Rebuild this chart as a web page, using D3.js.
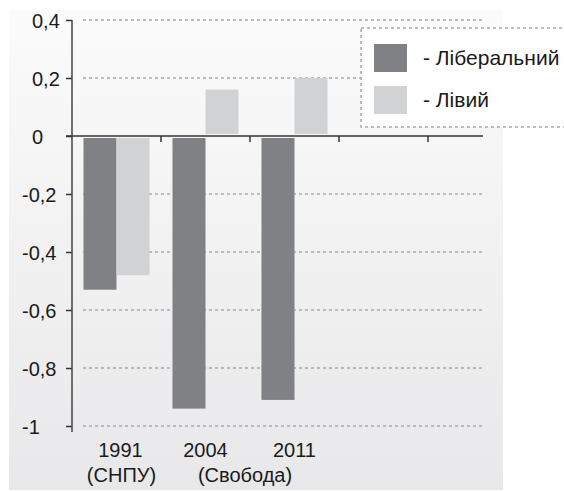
<!DOCTYPE html>
<html>
<head>
<meta charset="utf-8">
<script src="https://cdnjs.cloudflare.com/ajax/libs/d3/7.8.5/d3.min.js"></script>
<style>
    html, body { margin: 0; padding: 0; background: #fff; }
    svg { display: block; font-family: "Liberation Sans", Arial, Helvetica, sans-serif; }
</style>
</head>
<body>
<svg id="chart" width="564" height="492"></svg>
<script>
    // data
    var years = ["1991", "2004", "2011"];
    var parties = ["(СНПУ)", "(Свобода)"];
    var partySpan = [[0, 0], [1, 2]];           // which years each party label sits under
    var seriesNames = ["- Ліберальний", "- Лівий"];
    var liberal = [-0.53, -0.94, -0.91];
    var left = [-0.48, 0.16, 0.20];
    var yTicks = [0.4, 0.2, 0, -0.2, -0.4, -0.6, -0.8, -1];
    var slotCount = 5;                           // plot has room for 5 groups

    var colors = ["#808185", "#d1d2d4"];
    var ink = "#1a1a1a";

    var svg = d3.select("#chart");

    var plot = { x0: 72, x1: 483, y0: 20, y1: 426 };

    var y = d3.scaleLinear().domain([-1, 0.4]).range([plot.y1, plot.y0]);
    var x = d3.scaleBand()
        .domain(d3.range(slotCount))
        .range([plot.x0, plot.x0 + 89 * slotCount])
        .paddingInner(0.258)
        .paddingOuter(0.129);
    var xs = d3.scaleBand().domain([0, 1]).range([0, x.bandwidth()]);

    var fmt = d3.formatLocale({ decimal: ",", thousands: " ", grouping: [3], currency: ["", ""], minus: "-" }).format("~g");

    // background panel
    var grad = svg.append("defs").append("linearGradient")
        .attr("id", "bg").attr("x1", 0).attr("y1", 0).attr("x2", 0).attr("y2", 1);
    grad.append("stop").attr("offset", 0).attr("stop-color", "#fbfbfb");
    grad.append("stop").attr("offset", 1).attr("stop-color", "#e8e8ea");

    svg.append("rect")
        .attr("x", 9).attr("y", 10).attr("width", 494).attr("height", 480)
        .attr("fill", "url(#bg)");

    // grid lines
    svg.append("g").selectAll("line")
        .data(yTicks.filter(function (d) { return d !== 0; }))
        .enter().append("line")
        .attr("x1", 83).attr("x2", plot.x1)
        .attr("y1", function (d) { return y(d); })
        .attr("y2", function (d) { return y(d); })
        .attr("stroke", "#a9a9a9")
        .attr("stroke-width", 1.5)
        .attr("stroke-dasharray", "3,3");

    // legend box (covers the grid line under it)
    var legend = svg.append("g");
    legend.append("rect")
        .attr("x", 361).attr("y", 28).attr("width", 230).attr("height", 99)
        .attr("fill", "#fff")
        .attr("stroke", "#a9a9a9")
        .attr("stroke-width", 1.5)
        .attr("stroke-dasharray", "3,3");

    var item = legend.selectAll("g.item")
        .data(seriesNames)
        .enter().append("g")
        .attr("class", "item")
        .attr("transform", function (d, i) { return "translate(374," + (44 + i * 42) + ")"; });
    item.append("rect")
        .attr("width", 33).attr("height", 28)
        .attr("fill", function (d, i) { return colors[i]; });
    item.append("text")
        .attr("x", 49).attr("y", 21)
        .attr("font-size", 21)
        .attr("fill", ink)
        .text(function (d) { return d; });

    // bars
    var rows = years.map(function (yr, i) { return { i: i, values: [liberal[i], left[i]] }; });
    var gap = 2;

    svg.append("g").selectAll("g")
        .data(rows)
        .enter().append("g")
        .attr("transform", function (d) { return "translate(" + x(d.i) + ",0)"; })
        .selectAll("rect")
        .data(function (d) { return d.values; })
        .enter().append("rect")
        .attr("x", function (d, j) { return xs(j); })
        .attr("width", xs.bandwidth())
        .attr("y", function (d) { return d < 0 ? y(0) + gap : y(d); })
        .attr("height", function (d) { return Math.abs(y(d) - y(0)) - gap; })
        .attr("fill", function (d, j) { return colors[j]; });

    // y axis
    var yAxis = svg.append("g")
        .attr("transform", "translate(" + plot.x0 + ",0)")
        .attr("font-family", null)
        .call(d3.axisLeft(y).tickValues(yTicks).tickSize(6).tickSizeOuter(0).tickFormat(fmt));
    yAxis.attr("font-family", null);
    yAxis.select(".domain").remove();
    yAxis.selectAll(".tick line").attr("stroke", "#333").attr("stroke-width", 1.5);
    yAxis.selectAll(".tick text")
        .attr("text-anchor", "start")
        .attr("x", function (d) { return (d < 0 ? 22 : 32) - plot.x0; })
        .attr("dy", "0.36em")
        .attr("font-size", 20)
        .attr("fill", ink);

    svg.append("line")
        .attr("x1", plot.x0).attr("x2", plot.x0)
        .attr("y1", plot.y0).attr("y2", 432)
        .attr("stroke", "#444").attr("stroke-width", 1.5);

    // x axis
    svg.append("line")
        .attr("x1", 66).attr("x2", plot.x1)
        .attr("y1", y(0)).attr("y2", y(0))
        .attr("stroke", "#333").attr("stroke-width", 1.5);

    svg.append("g").selectAll("line")
        .data(d3.range(1, slotCount))
        .enter().append("line")
        .attr("x1", function (d) { return plot.x0 + d * x.step(); })
        .attr("x2", function (d) { return plot.x0 + d * x.step(); })
        .attr("y1", y(0)).attr("y2", y(0) + 6)
        .attr("stroke", "#333").attr("stroke-width", 1.5);

    // category labels
    function center(i) { return x(i) + x.bandwidth() / 2; }

    svg.append("g").selectAll("text")
        .data(years)
        .enter().append("text")
        .attr("x", function (d, i) { return center(i) + (i === 0 ? 4 : 0); })
        .attr("y", 457)
        .attr("text-anchor", "middle")
        .attr("font-size", 20)
        .attr("fill", ink)
        .text(function (d) { return d; });

    svg.append("g").selectAll("text")
        .data(parties)
        .enter().append("text")
        .attr("x", function (d, i) { return (center(partySpan[i][0]) + center(partySpan[i][1])) / 2 + (i === 0 ? 5 : -5); })
        .attr("y", 482)
        .attr("text-anchor", "middle")
        .attr("font-size", 20)
        .attr("fill", ink)
        .text(function (d) { return d; });
</script>
</body>
</html>
